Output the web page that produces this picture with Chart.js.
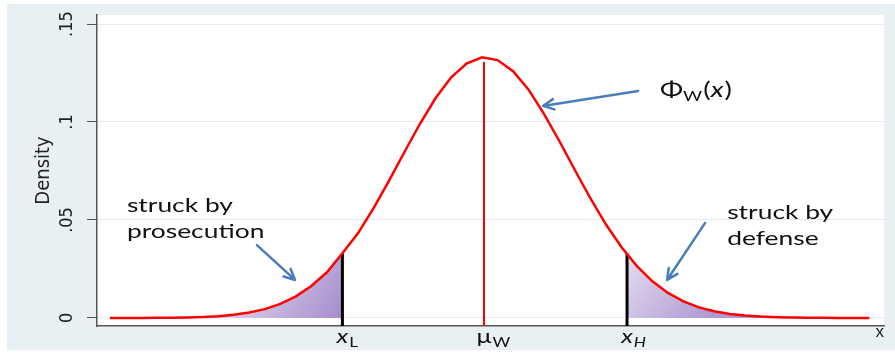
<!DOCTYPE html>
<html>
<head>
<meta charset="utf-8">
<title>Density</title>
<script src="https://cdn.jsdelivr.net/npm/chart.js"></script>
<style>
  html, body { margin: 0; padding: 0; background: #fff; }
  #wrap { position: relative; width: 895px; height: 354px; }
</style>
</head>
<body>
<div id="wrap"><canvas id="chart"></canvas></div>
<script>
// kdensity grid (50 points), mu_W at 0
const xGrid = [
  -13.26, -12.71, -12.16, -11.61, -11.06, -10.51, -9.96, -9.41, -8.87, -8.32,
  -7.77, -7.22, -6.67, -6.12, -5.57, -5.02, -4.47, -3.92, -3.37, -2.82,
  -2.27, -1.72, -1.17, -0.62, -0.07, 0.48, 1.03, 1.58, 2.12, 2.67,
  3.22, 3.77, 4.32, 4.87, 5.42, 5.97, 6.52, 7.07, 7.62, 8.16,
  8.71, 9.26, 9.81, 10.36, 10.91, 11.46, 12.01, 12.56, 13.11, 13.66
];
const density = [
  0.0000, 0.0000, 0.0000, 0.0001, 0.0001, 0.0003, 0.0005, 0.0009, 0.0016, 0.0028,
  0.0045, 0.0072, 0.0110, 0.0163, 0.0233, 0.0330, 0.0432, 0.0559, 0.0700, 0.0847,
  0.0991, 0.1121, 0.1227, 0.1298, 0.1330, 0.1316, 0.1259, 0.1165, 0.1043, 0.0903,
  0.0755, 0.0611, 0.0478, 0.0362, 0.0265, 0.0187, 0.0128, 0.0085, 0.0054, 0.0034,
  0.0020, 0.0012, 0.0007, 0.0004, 0.0002, 0.0001, 0.0001, 0.0000, 0.0000, 0.0000
];

// x_L, mu_W, x_H and how high each vertical line goes
const cutoffs = [-5.02, 0, 5.07];
const cutoffHeights = [0.0330, 0.1306, 0.0330];
const cutoffLabels = [["x", "L"], ["\u03bc", "W"], ["x", "H"]];

const yTicks = [0, 0.05, 0.1, 0.15];
const yTickLabels = ["0", ".05", ".1", ".15"];

const yMin = -0.0041;
const yMax = 0.1546;

// overlay notes (data coords)
const notes = [
  { lines: ["struck by", "prosecution"], x: -12.66, y: 0.0541 },
  { lines: ["struck by", "defense"], x: 8.62, y: 0.0505 },
];
const arrows = [
  { from: [-8.05, 0.0372], to: [-6.70, 0.0194] },
  { from: [7.84, 0.0485], to: [6.49, 0.0194] },
  { from: [5.46, 0.1158], to: [2.09, 0.1082] },
];
const phiLabel = { x: 6.24, y: 0.1127 };

const curve = xGrid.map((x, i) => ({ x: x, y: density[i] }));
const leftTail = curve.filter((p) => p.x <= cutoffs[0]);
const rightTail = [{ x: cutoffs[2], y: cutoffHeights[2] }].concat(
  curve.filter((p) => p.x > cutoffs[2])
);
const vline = (i) => [
  { x: cutoffs[i], y: yMin },
  { x: cutoffs[i], y: cutoffHeights[i] },
];

const SX = 1.32; // the original picture is stretched sideways
const noteFont = '20px "Lato", "Noto Sans", sans-serif';
const axisFont = '"Liberation Sans Narrow", "DejaVu Sans Condensed", "Liberation Sans", sans-serif';

function stretchText(ctx, text, x, y, font, align) {
  ctx.font = font;
  const w = ctx.measureText(text).width * SX;
  let x0 = x;
  if (align === "center") x0 = x - w / 2;
  if (align === "right") x0 = x - w;
  ctx.save();
  ctx.translate(x0, y);
  ctx.scale(SX, 1);
  ctx.textAlign = "left";
  ctx.textBaseline = "alphabetic";
  ctx.fillText(text, 0, 0);
  ctx.restore();
  return x0 + w;
}

// main glyph centred on x, subscript right after it
function subLabel(ctx, main, sub, x, y, size, italic, subItalic) {
  const f1 = (italic ? "italic " : "") + size + 'px "Lato", "Noto Sans", sans-serif';
  const f2 = (subItalic ? "italic " : "") + Math.round(size * 0.68) + 'px "Lato", "Noto Sans", sans-serif';
  const end = stretchText(ctx, main, x, y, f1, "center");
  return stretchText(ctx, sub, end + 1, y + 4, f2, "left");
}

function arrow(ctx, x1, y1, x2, y2) {
  const ang = Math.atan2(y2 - y1, x2 - x1);
  const len = 12;
  const spread = 0.45;
  ctx.beginPath();
  ctx.moveTo(x1, y1);
  ctx.lineTo(x2, y2);
  ctx.moveTo(x2 - len * Math.cos(ang - spread), y2 - len * Math.sin(ang - spread));
  ctx.lineTo(x2, y2);
  ctx.lineTo(x2 - len * Math.cos(ang + spread), y2 - len * Math.sin(ang + spread));
  ctx.stroke();
}

function tailGradient(context, fromX, toX, light, dark) {
  const chart = context.chart;
  const { chartArea, scales } = chart;
  if (!chartArea) return light;
  const g = chart.ctx.createLinearGradient(
    scales.x.getPixelForValue(fromX), scales.y.getPixelForValue(0.035),
    scales.x.getPixelForValue(toX), scales.y.getPixelForValue(0)
  );
  g.addColorStop(0, light);
  g.addColorStop(1, dark);
  return g;
}

// grey panel + white plot region
const panelBg = {
  id: "panelBg",
  beforeDraw(chart) {
    const { ctx, chartArea: a } = chart;
    ctx.save();
    ctx.fillStyle = "#e9f0f3";
    ctx.fillRect(7, 4, chart.width - 7, chart.height - 8);
    ctx.fillStyle = "#ffffff";
    ctx.fillRect(a.left, a.top, a.right - a.left, a.bottom - a.top);
    ctx.restore();
  },
};

// text and arrows pasted on top of the graph
const overlay = {
  id: "overlay",
  afterDraw(chart) {
    const { ctx, chartArea, scales } = chart;
    const px = (v) => scales.x.getPixelForValue(v);
    const py = (v) => scales.y.getPixelForValue(v);
    ctx.save();
    ctx.fillStyle = "#111";

    cutoffLabels.forEach((lab, i) => {
      const italicMain = lab[0] === "x";
      subLabel(ctx, lab[0], lab[1], px(cutoffs[i]), chartArea.bottom + 17, 19, italicMain, i === 2);
    });

    notes.forEach((n) => {
      n.lines.forEach((line, j) => {
        stretchText(ctx, line, px(n.x), py(n.y) + j * 26, noteFont, "left");
      });
    });

    // Phi_W(x)
    let end = stretchText(ctx, "\u03a6", px(phiLabel.x), py(phiLabel.y), '21px "Lato", "Noto Sans", sans-serif', "left");
    end = stretchText(ctx, "W", end, py(phiLabel.y) + 4, '14px "Lato", "Noto Sans", sans-serif', "left");
    end = stretchText(ctx, "(", end + 1, py(phiLabel.y), '21px "Lato", "Noto Sans", sans-serif', "left");
    end = stretchText(ctx, "x", end, py(phiLabel.y), 'italic 21px "Lato", "Noto Sans", sans-serif', "left");
    stretchText(ctx, ")", end + 1, py(phiLabel.y), '21px "Lato", "Noto Sans", sans-serif', "left");

    ctx.strokeStyle = "#4a7ebb";
    ctx.lineWidth = 2.5;
    ctx.lineCap = "round";
    ctx.lineJoin = "round";
    arrows.forEach((a) => {
      arrow(ctx, px(a.from[0]), py(a.from[1]), px(a.to[0]), py(a.to[1]));
    });
    ctx.restore();
  },
};

const context = document.getElementById("chart").getContext("2d");

new Chart(context, {
  type: "line",
  data: {
    datasets: [
      {
        label: "density",
        data: curve,
        borderColor: "#ff0000",
        borderWidth: 2.5,
        pointRadius: 0,
        tension: 0,
        fill: false,
      },
      {
        label: "mu",
        data: vline(1),
        borderColor: "#ff0000",
        borderWidth: 2,
        pointRadius: 0,
        fill: false,
      },
      {
        label: "xL",
        data: vline(0),
        borderColor: "#000000",
        borderWidth: 3,
        pointRadius: 0,
        fill: false,
      },
      {
        label: "xH",
        data: vline(2),
        borderColor: "#000000",
        borderWidth: 3,
        pointRadius: 0,
        fill: false,
      },
      {
        label: "left tail",
        data: leftTail,
        borderWidth: 0,
        borderColor: "rgba(0,0,0,0)",
        pointRadius: 0,
        fill: { value: 0 },
        backgroundColor: (c) => tailGradient(c, -9, cutoffs[0], "#e9e2f2", "#a68ccc"),
      },
      {
        label: "right tail",
        data: rightTail,
        borderWidth: 0,
        borderColor: "rgba(0,0,0,0)",
        pointRadius: 0,
        fill: { value: 0 },
        backgroundColor: (c) => tailGradient(c, cutoffs[2], 8, "#e6e0f0", "#ae98d4"),
      },
    ],
  },
  options: {
    responsive: true,
    maintainAspectRatio: false,
    animation: false,
    devicePixelRatio: 1,
    layout: { padding: { left: 7, top: 15, right: 11, bottom: 0 } },
    plugins: {
      legend: { display: false },
      tooltip: { enabled: false },
    },
    scales: {
      x: {
        type: "linear",
        min: -13.72,
        max: 14.18,
        afterFit: (s) => {
          s.height = 28;
          s.paddingLeft = 0;
          s.paddingRight = 0;
        },
        ticks: { display: false },
        grid: { display: false, drawTicks: false },
        border: { color: "#555", width: 1.5 },
        title: {
          display: true,
          text: "x",
          align: "end",
          color: "#222",
          font: { family: "Liberation Sans", size: 17 },
          padding: { top: 0, bottom: 11 },
        },
      },
      y: {
        type: "linear",
        min: yMin,
        max: yMax,
        afterBuildTicks: (s) => {
          s.ticks = yTicks.map((v) => ({ value: v }));
        },
        afterFit: (s) => {
          s.width = 90;
          s.paddingTop = 0;
          s.paddingBottom = 0;
        },
        ticks: {
          minRotation: 90,
          maxRotation: 90,
          crossAlign: "center",
          padding: 7,
          color: "#222",
          font: { family: axisFont, size: 18 },
          callback: (v, i) => yTickLabels[i],
        },
        grid: { color: "#e4ecef", lineWidth: 1, tickColor: "#555", tickLength: 10 },
        border: { color: "#555", width: 1.5 },
        title: {
          display: true,
          text: "Density",
          color: "#222",
          font: { family: axisFont, size: 20 },
          padding: { top: 25, bottom: 0 },
        },
      },
    },
  },
  plugins: [panelBg, overlay],
});
</script>
</body>
</html>
